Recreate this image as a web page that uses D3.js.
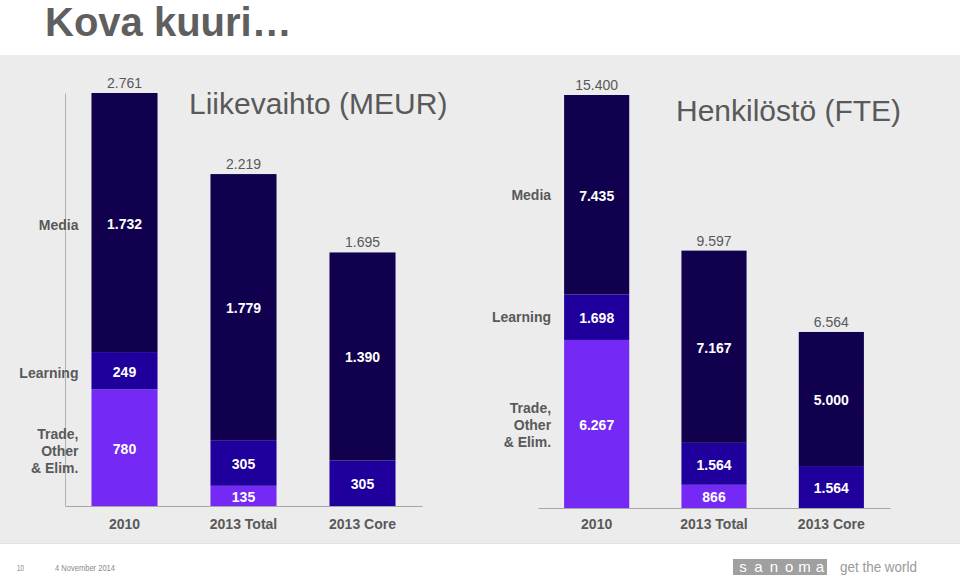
<!DOCTYPE html>
<html>
<head>
<meta charset="utf-8">
<script src="https://cdn.jsdelivr.net/npm/d3@7"></script>
<style>
  html, body { margin: 0; padding: 0; background: #ffffff; }
  svg { display: block; font-family: "Liberation Sans", Arial, sans-serif; }
</style>
</head>
<body>
<svg id="chart" width="960" height="576"></svg>
<script>
// ---------- data ----------
const categories = ["2010", "2013 Total", "2013 Core"];
const segmentNames = ["Trade, Other & Elim.", "Learning", "Media"];
const segmentLabelLines = [["Trade,", "Other", "& Elim."], ["Learning"], ["Media"]];

// Liikevaihto (MEUR)
const revenueTrade    = [780, 135, 0];
const revenueLearning = [249, 305, 305];
const revenueMedia    = [1732, 1779, 1390];

// Henkilöstö (FTE)
const fteTrade    = [6267, 866, 0];
const fteLearning = [1698, 1564, 1564];
const fteMedia    = [7435, 7167, 5000];

const colors = ["#7429f5", "#20009c", "#11004e"];

const fmt = d3.formatLocale({ decimal: ",", thousands: ".", grouping: [3], currency: ["", ""] }).format(",d");

const svg = d3.select("#chart");

// background panel
svg.append("rect").attr("x", 0).attr("y", 55).attr("width", 960).attr("height", 488).attr("fill", "#ececec");
svg.append("line").attr("x1", 0).attr("x2", 960).attr("y1", 543.5).attr("y2", 543.5).attr("stroke", "#e2e2e2").attr("stroke-width", 1);

// page title
svg.append("text").attr("x", 45).attr("y", 36).attr("font-size", 40).attr("font-weight", "bold")
  .attr("fill", "#5f5f5f").text("Kova kuuri…");

function drawPanel(cfg) {
  const series = [cfg.trade, cfg.learning, cfg.media];
  const rows = categories.map((c, i) => {
    const r = { cat: c };
    segmentNames.forEach((s, k) => r[s] = series[k][i]);
    return r;
  });
  const stacked = d3.stack().keys(segmentNames)(rows);
  const totals = rows.map(r => segmentNames.reduce((a, s) => a + r[s], 0));

  const x = d3.scaleBand().domain(categories).range(cfg.xRange)
    .paddingInner(0.445).paddingOuter(0.2225);
  const y = d3.scaleLinear().domain([0, d3.max(totals)]).range(cfg.yRange);

  const g = svg.append("g");

  // bars
  stacked.forEach((layer, k) => {
    g.append("g").selectAll("rect").data(layer).join("rect")
      .attr("x", d => x(d.data.cat))
      .attr("width", x.bandwidth())
      .attr("y", d => y(d[1]))
      .attr("height", d => y(d[0]) - y(d[1]))
      .attr("fill", colors[k]);
    g.append("g").selectAll("text").data(layer.filter(d => d[1] - d[0] > 0)).join("text")
      .attr("x", d => x(d.data.cat) + x.bandwidth() / 2)
      .attr("y", d => (y(d[0]) + y(d[1])) / 2 + 1)
      .attr("dy", "0.36em")
      .attr("text-anchor", "middle")
      .attr("font-size", 14).attr("font-weight", "bold").attr("fill", "#ffffff")
      .text(d => fmt(d[1] - d[0]));
  });

  // totals
  g.append("g").selectAll("text").data(totals).join("text")
    .attr("x", (d, i) => x(categories[i]) + x.bandwidth() / 2)
    .attr("y", d => y(d) - 10)
    .attr("dy", "0.36em")
    .attr("text-anchor", "middle")
    .attr("font-size", 14).attr("fill", "#595959")
    .text(d => fmt(d));

  // x axis
  const xAxis = g.append("g").attr("transform", `translate(0,${cfg.yRange[0]})`)
    .call(d3.axisBottom(x).tickSize(0).tickSizeOuter(0).tickPadding(cfg.tickPad));
  xAxis.select(".domain").attr("stroke", "#a6a6a6").attr("stroke-width", 1.2);
  xAxis.selectAll("text").attr("font-size", 14).attr("font-weight", "bold")
    .attr("fill", "#595959").attr("font-family", "Liberation Sans, Arial, sans-serif");

  // y axis line (left panel only)
  if (cfg.showYAxis) {
    const yAxis = g.append("g").attr("transform", `translate(${cfg.xRange[0]},0)`)
      .call(d3.axisLeft(y).tickValues([]).tickSizeOuter(0));
    yAxis.select(".domain").attr("stroke", "#b0b0b0").attr("stroke-width", 1);
  }

  // segment labels beside first bar
  const first = stacked.map(layer => layer[0]);
  const lx = x(categories[0]) - 13;
  first.forEach((d, k) => {
    const lines = segmentLabelLines[k];
    const cy = (y(d[0]) + y(d[1])) / 2 + cfg.labelShift[k];
    const t = g.append("text").attr("text-anchor", "end")
      .attr("font-size", 14).attr("font-weight", "bold").attr("fill", "#595959");
    lines.forEach((ln, j) => {
      t.append("tspan").attr("x", lx)
        .attr("y", cy + (j - (lines.length - 1) / 2) * 17)
        .attr("dy", "0.36em").text(ln);
    });
  });

  // panel title
  svg.append("text").attr("x", cfg.titleX).attr("y", cfg.titleY)
    .attr("font-size", 30).attr("fill", "#595959").text(cfg.title);
}

drawPanel({
  trade: revenueTrade, learning: revenueLearning, media: revenueMedia,
  xRange: [65, 422], yRange: [506, 93], showYAxis: true, tickPad: 13,
  labelShift: [3, 2, 2],
  title: "Liikevaihto (MEUR)", titleX: 189, titleY: 114
});

drawPanel({
  trade: fteTrade, learning: fteLearning, media: fteMedia,
  xRange: [538, 890], yRange: [508, 95], showYAxis: false, tickPad: 11,
  labelShift: [1, 0, 0],
  title: "Henkilöstö (FTE)", titleX: 676, titleY: 121
});

// footer
svg.append("text").attr("x", 17).attr("y", 571).attr("font-size", 9)
  .attr("fill", "#8a8a8a").attr("textLength", 7).attr("lengthAdjust", "spacingAndGlyphs").text("10");
svg.append("text").attr("x", 55).attr("y", 571).attr("font-size", 9)
  .attr("fill", "#8a8a8a").attr("textLength", 60).attr("lengthAdjust", "spacingAndGlyphs").text("4 November 2014");
svg.append("rect").attr("x", 733).attr("y", 559).attr("width", 94).attr("height", 16).attr("fill", "#a0a0a0");
const logoLetters = ["s", "a", "n", "o", "m", "a"];
svg.append("g").selectAll("text").data(logoLetters).join("text")
  .attr("x", (d, i) => 743 + i * 15.4).attr("y", 572).attr("text-anchor", "middle")
  .attr("font-size", 15).attr("fill", "#ffffff").text(d => d);
svg.append("text").attr("x", 840).attr("y", 572).attr("font-size", 14)
  .attr("fill", "#9a9a9a").attr("textLength", 77).attr("lengthAdjust", "spacingAndGlyphs").text("get the world");
</script>
</body>
</html>
